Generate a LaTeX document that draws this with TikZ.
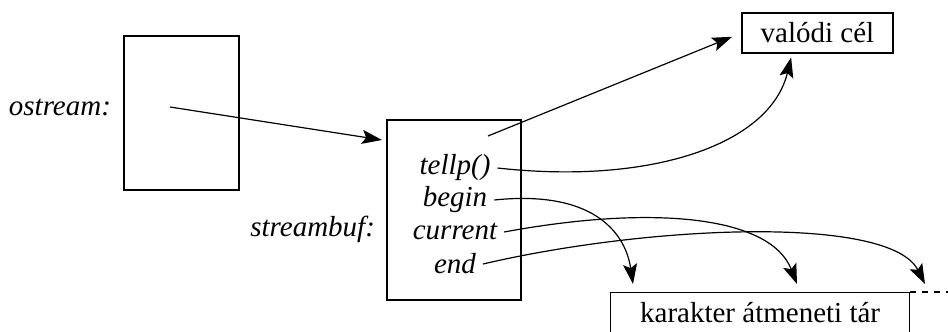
\documentclass[tikz,border=0pt]{standalone}
\usepackage{fontspec}
\setmainfont{Liberation Serif}
\usetikzlibrary{arrows.meta}

\begin{document}
\begin{tikzpicture}[x=0.5pt, y=-0.5pt,
  every node/.style={font=\fontsize{14.5}{17}\selectfont},
  box/.style={draw, line width=0.6pt, inner sep=0pt},
  lbl/.style={font=\fontsize{14.5}{17}\selectfont\itshape},
  arr/.style={-{Stealth[length=10pt, width=7pt, inset=2pt]}, line width=0.6pt}
]
\useasboundingbox (0,0) rectangle (948,332);

\node[box, minimum width=57.5pt, minimum height=77pt] (ostr) at (181.5,113) {};
\node[box, minimum width=67pt, minimum height=90pt] (sbuf) at (454,210) {};
\node[box, minimum width=75.5pt, minimum height=20pt] (goal) at (817.5,33) {valódi cél};
\node[box, minimum width=149.5pt, minimum height=20pt, anchor=north west] (buf) at (610,292) {karakter átmeneti tár};

\node[lbl, anchor=east] (ostrlbl) at (118,108) {ostream:};
\node[lbl, anchor=east] (sbuflbl) at (382,229) {streambuf:};

\node[lbl] (tellp)   at (455,168) {tellp()};
\node[lbl] (begin)   at (455,200) {begin};
\node[lbl] (current) at (455,232) {current};
\node[lbl] (end)     at (455,264) {end};

\coordinate (optr)  at (170,107);
\coordinate (sbufin) at (382,140);
\coordinate (sptr)  at (488,136);
\coordinate (pb) at (633,284);
\coordinate (pc) at (797,284);
\coordinate (pe) at (925,284);

\draw[arr] (optr) -- (sbufin);
\draw[arr, shorten >=5pt] (sptr) -- (goal.west);
\draw[arr, shorten >=2pt] (tellp.east) .. controls (650,185) and (770,145) .. (goal.-141);
\draw[arr] (begin.east) .. controls (590,190) and (625,230) .. (pb);
\draw[arr] (current.east) .. controls (650,205) and (770,215) .. (pc);
\draw[arr] (end.east) .. controls (650,225) and (890,215) .. (pe);

\draw[dashed, line width=0.6pt] (buf.north east) -- ++(40,0);
\draw[dashed, line width=0.6pt] (buf.south east) -- ++(40,0);

\end{tikzpicture}
\end{document}
